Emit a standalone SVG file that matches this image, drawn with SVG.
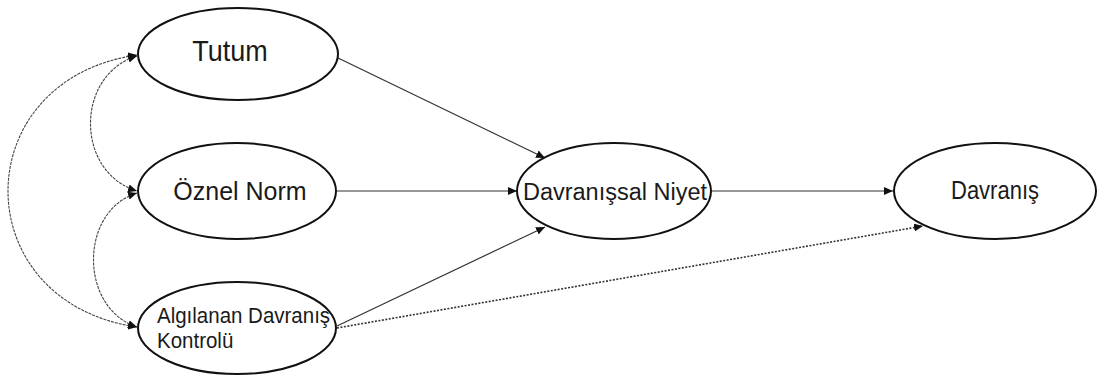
<svg xmlns="http://www.w3.org/2000/svg" width="1103" height="376" viewBox="0 0 1103 376">
  <style>
    .node ellipse { fill: #ffffff; stroke: #111111; stroke-width: 2; }
    .label { font-family: "Liberation Sans", Arial, sans-serif; fill: #1a1a1a; }
    .solid { fill: none; stroke: #333333; stroke-width: 1.2; }
    .cov { fill: none; stroke: #444444; stroke-width: 1.1; stroke-dasharray: 3 1; }
    .dot { fill: none; stroke: #333333; stroke-width: 1.6; stroke-dasharray: 2 1.5; }
  </style>
  <defs>
    <marker id="arr" markerUnits="userSpaceOnUse" markerWidth="10" markerHeight="8" refX="9" refY="4" orient="auto-start-reverse">
      <path d="M0,0 L9,4 L0,8 Z" fill="#111111"/>
    </marker>
  </defs>
  <rect width="1103" height="376" fill="#ffffff"/>
  <g id="connectors">
    <path class="cov" d="M137,55 C-35,80 -35,302 137,327" marker-start="url(#arr)" marker-end="url(#arr)"/>
    <path class="cov" d="M137,56 C75,75 75,172 137,191" marker-start="url(#arr)" marker-end="url(#arr)"/>
    <path class="cov" d="M137,193 C79,211 79,308 137,327" marker-start="url(#arr)" marker-end="url(#arr)"/>
    <line class="solid" x1="336" y1="57" x2="545" y2="158" marker-end="url(#arr)"/>
    <line class="solid" x1="337" y1="191" x2="517" y2="191" marker-end="url(#arr)"/>
    <line class="solid" x1="337" y1="326" x2="545" y2="227" marker-end="url(#arr)"/>
    <line class="solid" x1="712" y1="191" x2="893" y2="191" marker-end="url(#arr)"/>
    <line class="dot" x1="337" y1="328" x2="923" y2="226" marker-end="url(#arr)"/>
  </g>
  <g id="tutum" class="node">
    <ellipse cx="238" cy="54" rx="100" ry="46"/>
    <text class="label" transform="translate(230,61) scale(1,1.12)" font-size="27" text-anchor="middle">Tutum</text>
  </g>
  <g id="oznel-norm" class="node">
    <ellipse cx="237" cy="191" rx="99" ry="48"/>
    <text class="label" x="240" y="200" font-size="25" text-anchor="middle">Öznel Norm</text>
  </g>
  <g id="algilanan" class="node">
    <ellipse cx="237" cy="328" rx="99" ry="46"/>
    <text class="label" transform="translate(157,323) scale(1,1.1)" font-size="20.5">Algılanan Davranış</text>
    <text class="label" transform="translate(157,348) scale(1,1.1)" font-size="20.5">Kontrolü</text>
  </g>
  <g id="davranissal-niyet" class="node">
    <ellipse cx="614" cy="191" rx="97" ry="48"/>
    <text class="label" x="615" y="200" font-size="23.5" text-anchor="middle">Davranışsal Niyet</text>
  </g>
  <g id="davranis" class="node">
    <ellipse cx="995" cy="191" rx="101" ry="48"/>
    <text class="label" transform="translate(995,199) scale(1,1.15)" font-size="22" text-anchor="middle">Davranış</text>
  </g>
</svg>
